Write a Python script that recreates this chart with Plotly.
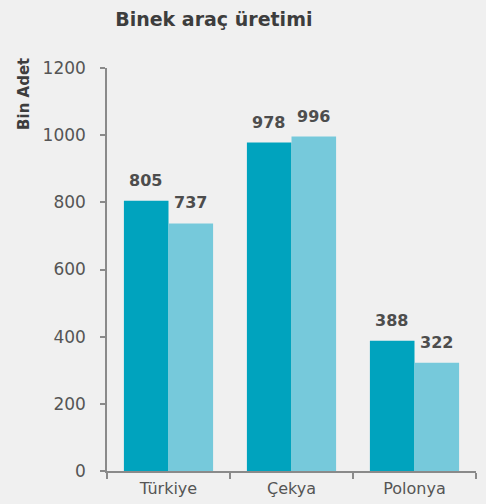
import plotly.graph_objects as go

categories = ["Türkiye", "Çekya", "Polonya"]
series_a = [805, 978, 388]
series_b = [737, 996, 322]
tick_vals = [0, 200, 400, 600, 800, 1000, 1200]

bg = "#f0f0f0"
FONT = "DejaVu Sans"
fig = go.Figure()
for vals, col in ((series_a, "#00a3be"), (series_b, "#76c9db")):
    fig.add_trace(go.Bar(x=categories, y=vals, marker=dict(color=col, line=dict(width=0))))

annotations = [dict(text="<b>Bin Adet</b>", textangle=-90, xref="paper", yref="paper",
                    x=-0.225, y=1.03, xanchor="center", yanchor="top", showarrow=False,
                    font=dict(family=FONT, size=15, color="#3d3d3d"))]
for vals, shift in ((series_a, -23), (series_b, 22)):
    for c, v in zip(categories, vals):
        annotations.append(dict(x=c, y=v, xref="x", yref="y", text=f"<b>{v}</b>", showarrow=False,
                                xshift=shift, yshift=9, yanchor="bottom", xanchor="center",
                                font=dict(family=FONT, size=16, color="#4d4d4d")))

fig.update_layout(
    width=486, height=504,
    paper_bgcolor=bg, plot_bgcolor=bg,
    margin=dict(l=107, r=10, t=68, b=33),
    showlegend=False,
    barmode="group", bargap=0.275, bargroupgap=0,
    font=dict(family=FONT, color="#555555", size=16),
    title=dict(text="<b>Binek araç üretimi</b>", x=0.44, xanchor="center", y=0.962, yanchor="middle",
               font=dict(family=FONT, size=19, color="#3d3d3d")),
    xaxis=dict(showline=True, linecolor="#8a8a8a", linewidth=1.5, ticks="outside", tickson="boundaries",
               ticklen=6, tickcolor="#8a8a8a", tickwidth=1.5, showgrid=False,
               ticklabelstandoff=2, automargin=False,
               tickfont=dict(family=FONT, size=16, color="#555555")),
    yaxis=dict(range=[0, 1200], tickvals=tick_vals, showline=True, linecolor="#8a8a8a", linewidth=1.5,
               ticks="outside", ticklen=5, tickcolor="#8a8a8a", tickwidth=1.5, showgrid=False,
               ticklabelstandoff=11, automargin=False,
               zeroline=False, tickfont=dict(family=FONT, size=17, color="#555555")),
    annotations=annotations,
)

fig.write_html("out.html", config={"displayModeBar": False},
               post_script="document.body.style.margin='0';document.body.style.background='#f0f0f0';")
